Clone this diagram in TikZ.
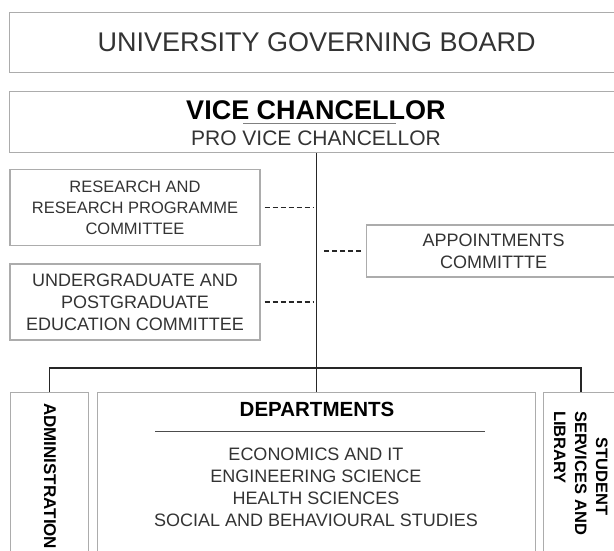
\documentclass[tikz,border=0pt]{standalone}
\usepackage{fontspec}
\setmainfont{Liberation Sans}
\usepackage{tikz}

\begin{document}
\begin{tikzpicture}[x=1pt, y=-1pt,
		box/.style={draw=gray!65, line width=1.2pt, inner sep=0pt, text=black!80},
		link/.style={draw=black!85, line width=1.4pt},
		dashlink/.style={draw=black!85, line width=1.1pt, dash pattern=on 5pt off 3pt}]
			\begingroup
			\useasboundingbox (0,0) rectangle (614,551);
			\clip (0,0) rectangle (614,551);
			
			\node[box, anchor=north west, minimum width=614pt, minimum height=60pt, font=\fontsize{27}{32}\selectfont] (board) at (9,12) {UNIVERSITY GOVERNING BOARD};
			
			\node[box, anchor=north west, minimum width=614pt, minimum height=61pt] (vc) at (9,91) {};
			\node[font=\bfseries\fontsize{27}{32}\selectfont] (vctitle) at (316,110) {VICE CHANCELLOR};
			\node[font=\fontsize{21}{25}\selectfont, text=black!80] (provc) at (316,138) {PRO VICE CHANCELLOR};
			\draw[gray, line width=1pt] (243,124) -- (396,124);
			
			\node[box, minimum width=250pt, minimum height=76pt, align=center, font=\fontsize{16.5}{21}\selectfont] (research) at (135,207.5) {RESEARCH AND\\RESEARCH PROGRAMME\\COMMITTEE};
			\node[box, minimum width=250pt, minimum height=76pt, align=center, font=\fontsize{18}{22}\selectfont] (edu) at (135,302) {UNDERGRADUATE AND\\POSTGRADUATE\\EDUCATION COMMITTEE};
			\node[box, anchor=west, minimum width=254pt, minimum height=52pt, align=center, font=\fontsize{18}{22}\selectfont] (appoint) at (366,251) {APPOINTMENTS\\COMMITTTE};
			
			\node[box, anchor=north west, minimum width=78pt, minimum height=170pt] (admin) at (10,392) {};
			\node[rotate=-90, anchor=west, inner sep=0pt, font=\bfseries\fontsize{17}{20}\selectfont] (admintext) at (50,403) {ADMINISTRATION};
			
			\node[box, anchor=north west, minimum width=438pt, minimum height=170pt] (dept) at (97,392) {};
			\node[font=\bfseries\fontsize{20.5}{24}\selectfont] (depttitle) at (317,409) {DEPARTMENTS};
			\draw[black!70, line width=1pt] (155,431) -- (485,431);
			\node[anchor=north, inner sep=0pt, align=center, text=black!80, font=\fontsize{18}{22}\selectfont] (deptlist) at (316,447.5) {ECONOMICS AND IT\\ENGINEERING SCIENCE\\HEALTH SCIENCES\\SOCIAL AND BEHAVIOURAL STUDIES};
			
			\node[box, anchor=north west, minimum width=75pt, minimum height=170pt] (student) at (543,392) {};
			\node[rotate=-90, anchor=west, inner sep=0pt, text width=131pt, align=left, font=\bfseries\fontsize{16.5}{21}\selectfont] (studenttext) at (581,411) {\hfill STUDENT\hfill\mbox{}\\SERVICES AND\\LIBRARY};
			
			\coordinate (bus) at (316,368);
			\draw[link] (vc.south) -- (dept.north);
			\draw[link] (admin.north) |- (bus) -| (student.north);
			
			\draw[dashlink, shorten <=4pt, shorten >=3pt] (research.east) -- (research.east -| vc.south);
			\draw[dashlink, shorten <=4pt, shorten >=3pt] (edu.east) -- (edu.east -| vc.south);
			\draw[dashlink, shorten <=5pt, shorten >=6pt] (appoint.west) -- (appoint.west -| vc.south);
			\endgroup
			\end{tikzpicture}
\end{document}
